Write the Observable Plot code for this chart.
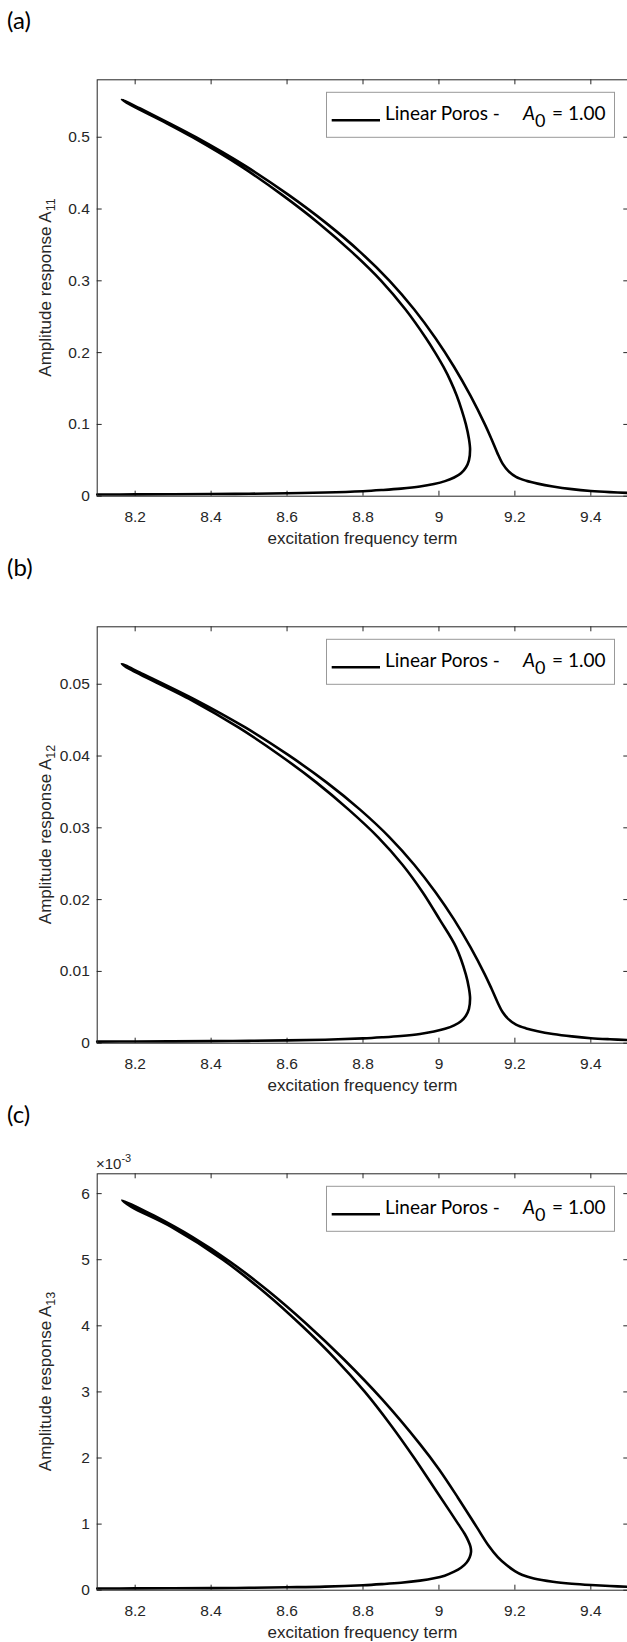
<!DOCTYPE html>
<html><head><meta charset="utf-8">
<script src="https://cdn.jsdelivr.net/npm/d3@7"></script>
<script src="https://cdn.jsdelivr.net/npm/@observablehq/plot@0.6"></script>
<style>
html,body{margin:0;padding:0;background:#fff;overflow:hidden;}
.panel{position:relative;width:627px;height:547px;overflow:hidden;}
</style></head><body><div id="root"></div>
<script>
// ---- tick values and labels ----
const xTicks = [8.2, 8.4, 8.6, 8.8, 9, 9.2, 9.4];
const yTicksA = [0, 0.1, 0.2, 0.3, 0.4, 0.5];
const yTicksB = [0, 0.01, 0.02, 0.03, 0.04, 0.05];
const yTicksC = [0, 1, 2, 3, 4, 5, 6]; // in units of 10^-3
const panelLabels = ["(a)", "(b)", "(c)"];
const ySubscripts = ["11", "12", "13"];
const xTitle = "excitation frequency term";
const yTitle = "Amplitude response A";
const legendName = "Linear Poros -";
const legendValue = "= 1.00";

// ---- panel (a): A11 along the response curve (lower branch -> unstable branch -> peak -> upper branch) ----
const freqA = [8.10,8.20,8.30,8.40,8.50,8.60,8.70,8.80,8.85,8.90,8.95,8.987,9.016,9.040,9.058,9.071,9.079,9.082,
  9.079,9.071,9.060,9.047,9.031,9.012,8.990,8.966,8.912,8.848,8.771,8.684,8.586,8.477,8.351,8.281,8.188,
  8.165,
  8.213,8.288,8.360,8.490,8.603,8.704,8.793,8.870,8.935,8.991,9.040,9.083,9.121,9.138,9.154,9.168,9.183,9.203,9.23,9.26,9.30,9.35,9.40,9.45,9.50];
const ampA = [0.0023,0.0025,0.0027,0.0030,0.0034,0.0041,0.0051,0.0070,0.0086,0.0106,0.0135,0.017,0.021,0.026,0.032,0.040,0.050,0.065,
  0.080,0.100,0.120,0.140,0.160,0.180,0.200,0.220,0.260,0.300,0.340,0.380,0.420,0.460,0.500,0.520,0.545,
  0.5525,
  0.540,0.520,0.500,0.460,0.420,0.380,0.340,0.300,0.260,0.220,0.180,0.140,0.100,0.080,0.060,0.045,0.035,0.027,0.0215,0.0175,0.0135,0.0098,0.0073,0.0057,0.0046];

// ---- panel (b): A12 ----
const freqB = [8.10,8.20,8.30,8.40,8.50,8.60,8.70,8.80,8.85,8.90,8.95,8.987,9.016,9.040,9.058,9.071,9.079,9.082,
  9.079,9.071,9.045,9.002,8.957,8.904,8.840,8.763,8.677,8.580,8.472,8.348,8.186,
  8.165,
  8.213,8.360,8.490,8.603,8.704,8.793,8.870,8.935,8.991,9.040,9.083,9.121,9.138,9.154,9.168,9.183,9.203,9.23,9.26,9.30,9.35,9.40,9.45,9.50];
const ampB = [0.00022,0.00024,0.00026,0.00029,0.00033,0.00039,0.00049,0.00067,0.00082,0.00101,0.00129,0.00163,0.00201,0.00249,0.00306,0.00382,0.00478,0.00621,
  0.00765,0.00956,0.01338,0.01721,0.02103,0.02486,0.02868,0.03250,0.03633,0.04015,0.04398,0.04780,0.05210,
  0.05282,
  0.05162,0.04780,0.04398,0.04015,0.03633,0.03250,0.02868,0.02486,0.02103,0.01721,0.01338,0.00956,0.00765,0.00574,0.00430,0.00335,0.00258,0.00206,0.00167,0.00129,0.00095,0.00070,0.00055,0.00044];

// ---- panel (c): A13 in units of 10^-3 ----
const freqC = [8.10,8.20,8.30,8.40,8.50,8.60,8.70,8.80,8.85,8.90,8.95,8.987,9.015,9.040,9.058,9.073,9.081,9.0845,
  9.083,9.077,9.068,9.051,9.028,8.993,8.935,8.873,8.805,8.727,8.639,8.542,8.431,8.294,8.190,
  8.166,
  8.25,8.35,8.45,8.55,8.65,8.75,8.85,8.95,9.00,9.05,9.10,9.13,9.155,9.178,9.20,9.22,9.25,9.30,9.35,9.40,9.45,9.50];
const ampC = [0.025,0.027,0.029,0.032,0.036,0.044,0.054,0.075,0.092,0.113,0.145,0.18,0.22,0.28,0.34,0.42,0.50,0.58,
  0.66,0.75,0.85,1.00,1.20,1.50,2.00,2.50,3.00,3.50,4.00,4.50,5.00,5.50,5.80,
  5.90,
  5.665,5.345,4.97,4.53,4.035,3.49,2.89,2.21,1.83,1.40,0.95,0.68,0.50,0.38,0.29,0.23,0.177,0.128,0.098,0.078,0.063,0.052];

const INK = "#262626";
const TICKFONT = "'Liberation Sans', Arial, sans-serif";
const TEXTFONT = "Lato, 'Open Sans', sans-serif";

function makePanel(idx, freq, amp, yDomain, yTicks, yFmt, exponent) {
  const W = 631, H = 547, mt = 79.3, mb = 51.3, ml = 96.7, mr = 2.7;
  const ph = H - mt - mb, pw = W - ml - mr, tl = 5;
  const svg = Plot.plot({
    width: W, height: H, marginTop: mt, marginBottom: mb, marginLeft: ml, marginRight: mr,
    x: {domain: [8.1, 9.5]},
    y: {domain: yDomain},
    style: {fontFamily: TICKFONT, fontSize: "15.5px", color: INK, background: "white", maxWidth: "none", overflow: "visible"},
    marks: [
      Plot.ruleX(xTicks, {x: d => d, insetTop: ph - tl, stroke: INK}),
      Plot.ruleX(xTicks, {x: d => d, insetBottom: ph - tl, stroke: INK}),
      Plot.ruleY(yTicks, {y: d => d, insetRight: pw - tl, stroke: INK}),
      Plot.ruleY(yTicks, {y: d => d, insetLeft: pw - tl, stroke: INK}),
      Plot.axisX(xTicks, {tickSize: 0, tickPadding: 14.3, tickFormat: d => String(d), label: null}),
      Plot.axisY(yTicks, {tickSize: 0, tickPadding: 7.4, tickFormat: yFmt, label: null}),
      Plot.line(freq, {x: freq, y: amp, curve: "catmull-rom", stroke: "#000", strokeWidth: 2.6, strokeLinejoin: "round", strokeLinecap: "round"}),
      Plot.frame({stroke: INK, strokeWidth: 1})
    ]
  });
  const s = d3.select(svg);
  // panel label
  s.append("text").attr("x", 7).attr("y", 29).attr("text-anchor", "start").attr("font-family", TEXTFONT)
    .attr("font-size", 24).attr("fill", "#000").text(panelLabels[idx]);
  // x title
  s.append("text").attr("x", ml + pw / 2).attr("y", H - mb + 48.5).attr("text-anchor", "middle")
    .attr("font-family", TICKFONT).attr("font-size", 17).attr("fill", INK).text(xTitle);
  // y title with subscript
  const yt = s.append("text").attr("transform", `translate(51,${mt + ph / 2}) rotate(-90)`)
    .attr("text-anchor", "middle").attr("font-family", TICKFONT).attr("font-size", 17).attr("fill", INK);
  yt.append("tspan").text(yTitle);
  yt.append("tspan").attr("dy", 4).attr("font-size", 12.5).text(ySubscripts[idx]);
  // exponent label
  if (exponent) {
    const ex = s.append("text").attr("x", 96).attr("y", mt - 4).attr("text-anchor", "start")
      .attr("font-family", TICKFONT).attr("font-size", 15).attr("fill", INK);
    ex.append("tspan").text("\u00d710");
    ex.append("tspan").attr("dy", -7).attr("font-size", 11).text(exponent);
  }
  // legend
  const lg = s.append("g").attr("transform", `translate(326,${mt + 12.5})`);
  lg.append("rect").attr("x", 0.5).attr("y", 0.5).attr("width", 288).attr("height", 45)
    .attr("fill", "#fff").attr("stroke", "#999").attr("stroke-width", 1);
  lg.append("line").attr("x1", 5.7).attr("x2", 54).attr("y1", 28.5).attr("y2", 28.5)
    .attr("stroke", "#000").attr("stroke-width", 2.6);
  const lt = lg.append("text").attr("y", 28).attr("text-anchor", "start")
    .attr("font-family", TEXTFONT).attr("font-size", 19).attr("fill", "#000");
  lt.append("tspan").attr("x", 59).text(legendName);
  lt.append("tspan").attr("x", 197).attr("font-style", "italic").text("A");
  lt.append("tspan").attr("x", 209).attr("dy", 7.5).attr("font-size", 18).text("0");
  lt.append("tspan").attr("x", 226).attr("dy", -7.5).text(legendValue);
  return svg;
}

const root = document.getElementById("root");
const specs = [
  [freqA, ampA, [0, 0.58], yTicksA, d => String(d), null],
  [freqB, ampB, [0, 0.058], yTicksB, d => String(d), null],
  [freqC, ampC, [0, 6.3], yTicksC, d => String(d), "-3"]
];
specs.forEach((sp, i) => {
  const div = document.createElement("div");
  div.className = "panel";
  div.appendChild(makePanel(i, ...sp));
  root.appendChild(div);
});
</script></body></html>
